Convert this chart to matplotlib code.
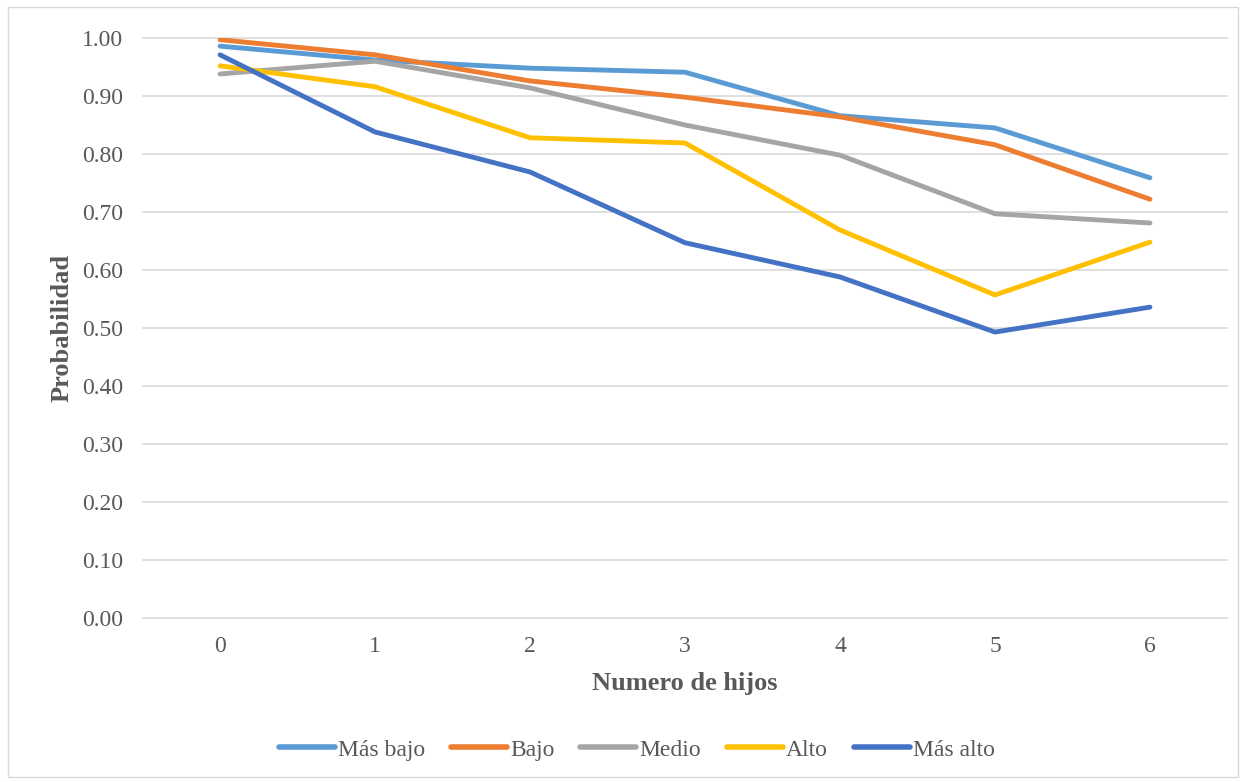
import matplotlib
matplotlib.use("Agg")
import matplotlib.pyplot as plt
from matplotlib.patches import Rectangle

# ===== data =====
hijos = [0, 1, 2, 3, 4, 5, 6]
mas_bajo = [0.986, 0.962, 0.948, 0.941, 0.866, 0.845, 0.759]
bajo     = [0.997, 0.971, 0.926, 0.898, 0.864, 0.816, 0.722]
medio    = [0.938, 0.960, 0.914, 0.850, 0.798, 0.697, 0.681]
alto     = [0.952, 0.916, 0.828, 0.819, 0.669, 0.557, 0.648]
mas_alto = [0.971, 0.838, 0.769, 0.647, 0.588, 0.493, 0.536]

series = [
    ("Más bajo", mas_bajo, "#5B9BD5"),
    ("Bajo", bajo, "#ED7D31"),
    ("Medio", medio, "#A5A5A5"),
    ("Alto", alto, "#FFC000"),
    ("Más alto", mas_alto, "#4472C4"),
]

plt.rcParams['font.family'] = ['Liberation Serif', 'DejaVu Serif']

fig = plt.figure(figsize=(12.46, 7.82), dpi=100)
ax = fig.add_axes([0.1144, 0.2097, 0.8707, 0.7417])

for name, vals, col in series:
    ax.plot(hijos, vals, color=col, lw=3.5, label=name, solid_capstyle='round')

ax.set_xlim(-0.5, 6.5)
ax.set_ylim(0, 1.0)
ax.set_yticks([i / 10 for i in range(11)])
ax.set_yticklabels([f"{i / 10:.2f}" for i in range(11)])
ax.set_xticks(hijos)
ax.grid(axis='y', color='#D9D9D9', lw=1.2)
for gl in ax.get_ygridlines():
    gl.set_clip_on(False)
ax.set_axisbelow(True)
for s in ax.spines.values():
    s.set_visible(False)
ax.tick_params(length=0, labelsize=17, colors='#595959', pad=14)
ax.tick_params(axis='x', pad=13)

ax.set_xlabel("Numero de hijos", fontsize=19, fontweight='bold', color='#595959', labelpad=11)
ax.set_ylabel("Probabilidad", fontsize=19, fontweight='bold', color='#595959', labelpad=6)

leg = fig.legend(loc='center', bbox_to_anchor=(0.511, 0.041), ncol=5, frameon=False,
                 fontsize=17, handlelength=2.37, handletextpad=0.13, columnspacing=1.1)
for t in leg.get_texts():
    t.set_color('#595959')
for h in leg.get_lines():
    h.set_linewidth(4.0)

# outer chart frame
fig.patches.append(Rectangle((0.0065, 0.006), 0.987, 0.985, transform=fig.transFigure,
                             fill=False, edgecolor='#D9D9D9', lw=1.0))

fig.savefig("out.png", dpi=100)
